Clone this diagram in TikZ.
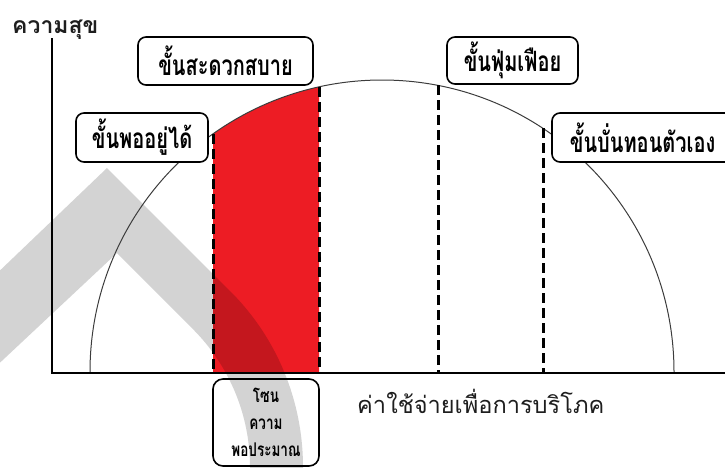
\documentclass[tikz,border=0pt]{standalone}
\usepackage{fontspec}
\newfontfamily\thaifont[Script=Thai]{Loma}
\newcommand{\tallthai}[1]{\scalebox{1}[1.4]{#1}}
\definecolor{bandgray}{RGB}{211,211,211}
\definecolor{zonered}{RGB}{237,28,36}
\definecolor{zonedark}{RGB}{196,23,30}
\definecolor{arcgray}{RGB}{60,60,60}
\definecolor{labelink}{RGB}{30,30,30}
\begin{document}
\begin{tikzpicture}[x=1pt,y=-1pt,
  stagebox/.style={draw=black, line width=1.6pt, rounded corners=8pt, fill=white,
    inner sep=0pt, font=\thaifont\bfseries\fontsize{20}{24}\selectfont},
  zonebox/.style={draw=black, line width=1.6pt, rounded corners=10pt,
    inner sep=0pt, align=center, font=\thaifont\bfseries\fontsize{13.5}{27}\selectfont},
  axisline/.style={line width=2.3pt, black},
  arcline/.style={line width=1pt, arcgray},
  limitline/.style={line width=3pt, black, dash pattern=on 10pt off 5pt},
  axislabel/.style={inner sep=0pt, text=labelink, font=\thaifont\bfseries\fontsize{23}{26}\selectfont}]
\useasboundingbox (0,0) rectangle (725,467);
\clip (0,0) rectangle (725,467);
% watermark band
\def\bandpath{(-10,280) -- (107,168) -- (230.6,291.6) .. controls (277.1,338.1) and (303,401.2) .. (303,467) -- (303,480) -- (250,480) -- (250,467) .. controls (250,415.3) and (229.5,365.7) .. (192.9,329.1) -- (117,253) -- (-10,372) -- cycle}
\fill[bandgray] \bandpath;
% red zone
\def\redpath{(213,372) -- (213,133.9) arc[start angle=125.37, end angle=102.46, radius=292pt] -- (319,372) -- cycle}
\fill[zonered] \redpath;
\begin{scope}
  \clip \bandpath;
  \fill[zonedark] \redpath;
\end{scope}
% curve
\coordinate (arcL) at (90,372);
\draw[arcline] (arcL) arc[start angle=180, end angle=0, radius=292pt];
% axes
\coordinate (ytop) at (52,38);
\coordinate (origin) at (52,373);
\coordinate (xend) at (730,373);
\draw[axisline] (ytop) -- (origin) -- (xend);
% dashed limits
\coordinate (d1t) at (213,133.9); \coordinate (d1b) at (213,372);
\coordinate (d2t) at (319,86.9);  \coordinate (d2b) at (319,372);
\coordinate (d3t) at (438,85.4);  \coordinate (d3b) at (438,372);
\coordinate (d4t) at (543,128.4); \coordinate (d4b) at (543,372);
\draw[limitline] (d1t) -- (d1b);
\draw[limitline] (d2t) -- (d2b);
\draw[limitline] (d3t) -- (d3b);
\draw[limitline] (d4t) -- (d4b);
% stage boxes
\node[stagebox, minimum width=132pt, minimum height=49pt] (b1) at (142,137.5) {\tallthai{ขั้นพออยู่ได้}};
\node[stagebox, minimum width=175pt, minimum height=48pt] (b2) at (225.5,61) {\tallthai{ขั้นสะดวกสบาย}};
\node[stagebox, minimum width=131pt, minimum height=47pt] (b3) at (512.5,60.5) {\tallthai{ขั้นฟุ่มเฟือย}};
\node[stagebox, minimum width=181pt, minimum height=49pt] (b4) at (642.5,137.5) {\tallthai{ขั้นบั่นทอนตัวเอง}};
\node[zonebox, minimum width=106pt, minimum height=87pt] (b5) at (266,422.5) {\tallthai{โซน}\\\tallthai{ความ}\\\tallthai{พอประมาณ}};
% axis labels
\node[axislabel, anchor=base west] (ylab) at (12,33) {ความสุข};
\node[axislabel, anchor=base west, font=\thaifont\fontsize{23.6}{26}\selectfont] (xlab) at (357,413) {ค่าใช้จ่ายเพื่อการบริโภค};
\end{tikzpicture}
\end{document}
